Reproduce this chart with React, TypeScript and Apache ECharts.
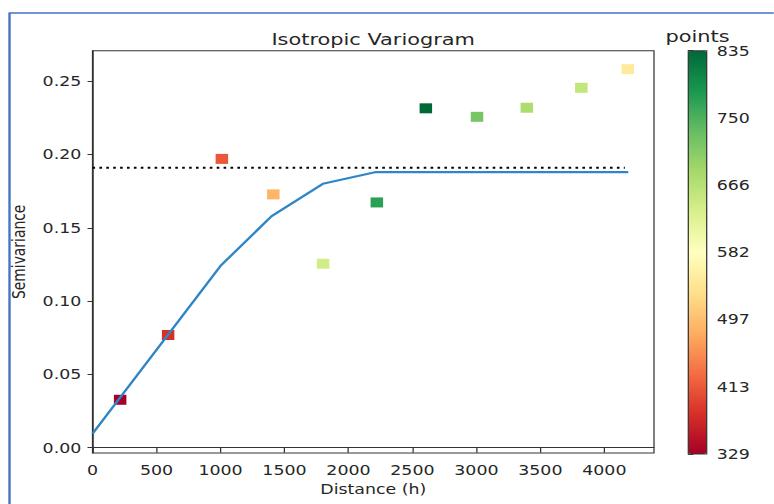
import React, { useEffect, useRef } from "react";
import * as echarts from "echarts";

// ---- data ----
const lagDistances = [216, 591, 1011, 1413, 1802, 2222, 2605, 3005, 3394, 3820, 4183];
const semivariances = [0.0327, 0.0769, 0.197, 0.1728, 0.1255, 0.1673, 0.2315, 0.2257, 0.2319, 0.2455, 0.2582];
const pointCounts = [329, 380, 412, 488, 640, 774, 835, 720, 676, 655, 548];

const modelDistances = [0, 1000, 1400, 1800, 2216, 4187];
const modelValues = [0.0095, 0.124, 0.158, 0.18, 0.188, 0.188];

const sillValue = 0.191;
const sillStart = 0;
const sillEnd = 4160;

const xTicks = [0, 500, 1000, 1500, 2000, 2500, 3000, 3500, 4000];
const yTicks = [0, 0.05, 0.1, 0.15, 0.2, 0.25];
const colorbarLabels = ["329", "413", "497", "582", "666", "750", "835"];
const colorbarMin = 329;
const colorbarMax = 835;

const RdYlGn = [
  "#a50026", "#d73027", "#f46d43", "#fdae61", "#fee08b", "#ffffbf",
  "#d9ef8b", "#a6d96a", "#66bd63", "#1a9850", "#006837",
];

// horizontal stretch of the reference picture
const SX = 1.25;
const W = 774 / SX;
const H = 504;
const FONT = "DejaVu Sans";
const TXT = "#262626";
const AX = "#333";

export default function App() {
  const ref = useRef<HTMLDivElement>(null);

  useEffect(() => {
    if (!ref.current) return;
    const chart = echarts.init(ref.current, undefined, { renderer: "svg" });

    const scatterData = lagDistances.map((d, i) => [d, semivariances[i], pointCounts[i]]);
    const modelData = modelDistances.map((d, i) => [d, modelValues[i]]);
    const sillData = [
      [sillStart, sillValue],
      [sillEnd, sillValue],
    ];

    const gLeft = 92.3 / SX;
    const gRight = 654 / SX;
    const gTop = 50.7;
    const gBottom = 453;
    const cbLeft = 688.3 / SX;
    const cbWidth = 18.4 / SX;
    const cbTop = 50.7;
    const cbBottom = 454;

    chart.setOption({
      animation: false,
      backgroundColor: "#ffffff",
      textStyle: { fontFamily: FONT },
      graphic: [
        {
          type: "line",
          shape: { x1: 7.6, y1: 13, x2: W, y2: 13 },
          style: { stroke: "#4472c4", lineWidth: 1.6 },
        },
        {
          type: "line",
          shape: { x1: 7.6, y1: 12.5, x2: 7.6, y2: H },
          style: { stroke: "#4472c4", lineWidth: 1.9 },
        },
        {
          type: "text",
          x: (gLeft + gRight) / 2,
          y: 39,
          style: {
            text: "Isotropic Variogram",
            fontSize: 16.7,
            lineHeight: 16,
            fontFamily: FONT,
            fill: TXT,
            align: "center",
            verticalAlign: "middle",
          },
        },
        {
          type: "text",
          x: cbLeft + cbWidth / 2,
          y: 36,
          style: {
            text: "points",
            fontSize: 16.7,
            lineHeight: 13,
            fontFamily: FONT,
            fill: TXT,
            align: "center",
            verticalAlign: "middle",
          },
        },
      ],
      grid: [
        {
          left: gLeft,
          top: gTop,
          width: gRight - gLeft,
          height: gBottom - gTop,
          show: true,
          borderColor: AX,
          borderWidth: 1,
          backgroundColor: "transparent",
        },
        {
          left: cbLeft,
          top: cbTop,
          width: cbWidth,
          height: cbBottom - cbTop,
          show: true,
          borderColor: AX,
          borderWidth: 1,
          backgroundColor: "transparent",
          z: 10,
        },
      ],
      xAxis: [
        {
          type: "value",
          gridIndex: 0,
          min: 0,
          max: 4388,
          interval: 500,
          name: "Distance (h)",
          nameLocation: "middle",
          nameGap: 29,
          nameTextStyle: { fontSize: 13.9, color: TXT, fontFamily: FONT },
          axisLine: { show: true, lineStyle: { color: AX, width: 1 } },
          axisTick: { show: true, inside: false, length: 5, customValues: xTicks, lineStyle: { color: AX } },
          axisLabel: {
            show: true,
            customValues: xTicks,
            margin: 10,
            fontSize: 13.9,
            color: TXT,
            fontFamily: FONT,
            formatter: (v: number) => String(Math.round(v)),
          },
          splitLine: { show: false },
        },
        {
          type: "value",
          gridIndex: 1,
          min: 0,
          max: 1,
          show: false,
        },
      ],
      yAxis: [
        {
          type: "value",
          gridIndex: 0,
          min: -0.0036,
          max: 0.2708,
          name: "Semivariance",
          nameLocation: "middle",
          nameGap: 52,
          nameTextStyle: { fontSize: 13.9, color: TXT, fontFamily: FONT },
          axisLine: { show: true, lineStyle: { color: AX, width: 1 } },
          axisTick: { show: true, inside: false, length: 4, customValues: yTicks, lineStyle: { color: AX } },
          axisLabel: {
            show: true,
            customValues: yTicks,
            margin: 9,
            fontSize: 13.9,
            color: TXT,
            fontFamily: FONT,
            formatter: (v: number) => v.toFixed(2),
          },
          splitLine: { show: false },
        },
        {
          type: "value",
          gridIndex: 1,
          min: 0,
          max: colorbarLabels.length - 1,
          interval: 1,
          position: "right",
          axisLine: { show: false },
          axisTick: { show: true, inside: false, length: 4, lineStyle: { color: AX } },
          axisLabel: {
            show: true,
            margin: 8,
            fontSize: 13.9,
            lineHeight: 12,
            color: TXT,
            fontFamily: FONT,
            formatter: (v: number) => colorbarLabels[Math.round(v)] ?? "",
          },
          splitLine: { show: false },
        },
      ],
      visualMap: [
        {
          type: "continuous",
          seriesIndex: 0,
          dimension: 2,
          min: colorbarMin,
          max: colorbarMax,
          orient: "vertical",
          left: cbLeft,
          top: cbTop,
          itemWidth: cbWidth,
          itemHeight: cbBottom - cbTop,
          calculable: false,
          hoverLink: false,
          padding: 0,
          text: null,
          showLabel: false,
          inRange: { color: RdYlGn },
        },
      ],
      series: [
        {
          type: "scatter",
          xAxisIndex: 0,
          yAxisIndex: 0,
          data: scatterData,
          symbol: "rect",
          symbolSize: 10,
          itemStyle: { opacity: 1 },
          z: 2,
        },
        {
          type: "line",
          xAxisIndex: 0,
          yAxisIndex: 0,
          data: sillData,
          showSymbol: false,
          symbol: "none",
          lineStyle: { color: "#000000", width: 2.08, type: [2.08, 3.44], cap: "butt" },
          z: 3,
        },
        {
          type: "line",
          xAxisIndex: 0,
          yAxisIndex: 0,
          data: modelData,
          showSymbol: false,
          symbol: "none",
          lineStyle: { color: "#2f86c6", width: 2.1 },
          z: 4,
        },
      ],
    });

    return () => chart.dispose();
  }, []);

  return (
    <div
      style={{
        position: "absolute",
        left: 0,
        top: 0,
        width: 774,
        height: 504,
        overflow: "hidden",
        background: "#ffffff",
      }}
    >
      <div
        ref={ref}
        style={{
          width: W,
          height: H,
          transform: `scaleX(${SX})`,
          transformOrigin: "0 0",
        }}
      />
    </div>
  );
}
